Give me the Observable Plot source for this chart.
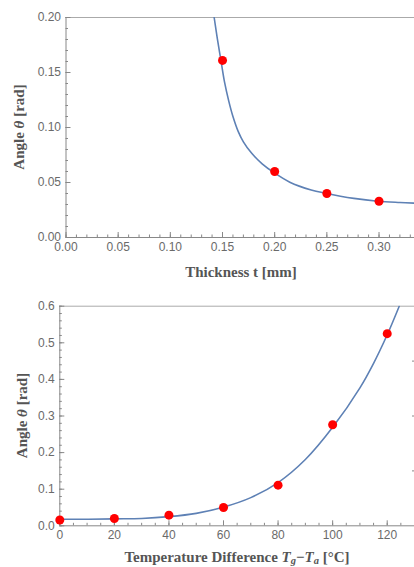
<!DOCTYPE html>
<html><head><meta charset="utf-8">
<script src="https://cdn.jsdelivr.net/npm/d3@7"></script>
<script src="https://cdn.jsdelivr.net/npm/@observablehq/plot@0.6"></script>
<style>body{margin:0;background:#fff} #chart svg{display:block}</style>
</head><body><div id="chart"></div>
<script>
// Panel 1: angle vs thickness
const thickness = [0.15, 0.20, 0.25, 0.30];
const angleByThickness = [0.161, 0.060, 0.040, 0.033];
const fitThicknessX = [0.142, 0.145, 0.1485, 0.152, 0.156, 0.160, 0.165, 0.170, 0.178, 0.188, 0.199, 0.2145, 0.235, 0.2484, 0.2759, 0.2989, 0.32, 0.334];
const fitThicknessY = [0.200, 0.181, 0.161, 0.141, 0.124, 0.110, 0.0965, 0.0870, 0.0765, 0.0670, 0.0592, 0.0503, 0.0432, 0.0403, 0.0356, 0.0330, 0.0318, 0.0312];
const topXTicks = [0, 0.05, 0.10, 0.15, 0.20, 0.25, 0.30];
const topYTicks = [0, 0.05, 0.10, 0.15, 0.20];

// Panel 2: angle vs temperature difference
const tempDiff = [0, 20, 40, 60, 80, 100, 120];
const angleByTemp = [0.016, 0.020, 0.029, 0.050, 0.111, 0.276, 0.525];
const fitTempX = [0, 10, 20, 30, 40, 50, 60, 70, 80, 90, 100, 110, 115, 120, 124.4];
const fitTempY = [0.018, 0.018, 0.019, 0.020, 0.025, 0.034, 0.051, 0.077, 0.118, 0.181, 0.269, 0.377, 0.444, 0.522, 0.600];
const botXTicks = [0, 20, 40, 60, 80, 100, 120];
const botYTicks = [0, 0.1, 0.2, 0.3, 0.4, 0.5, 0.6];
const botRightTicks = [0.15, 0.30, 0.45];

const curveColor = "#5e81b5";
const axisColor = "#888";
const textColor = "#6a6a6a";
const labelColor = "#555";

function panel({xDomain, yDomain, xTicks, yTicks, xMinor, yMinor, rightTicks, xFmt, yFmt, px, py, fx, fy, height, mt, mb, ml}) {
  const pts = px.map((x, i) => ({x, y: py[i]}));
  const fit = fx.map((x, i) => ({x, y: fy[i]}));
  const marks = [
    Plot.ruleY([yDomain[1]], {stroke: "#aaa"}),
    Plot.ruleX([xDomain[0]], {stroke: axisColor}),
    Plot.ruleY([yDomain[0]], {stroke: axisColor}),
    Plot.axisX({ticks: xTicks, tickSize: -5, tickPadding: 10, tickFormat: xFmt, stroke: axisColor, fill: textColor, fontSize: 12, label: null}),
    Plot.axisX({ticks: xMinor, tickSize: -2.5, text: null, stroke: axisColor, label: null}),
    Plot.axisY({ticks: yTicks, tickSize: -5, tickPadding: 10, tickFormat: yFmt, stroke: axisColor, fill: textColor, fontSize: 12, label: null}),
    Plot.axisY({ticks: yMinor, tickSize: -2.5, text: null, stroke: axisColor, label: null})
  ];
  if (rightTicks) marks.push(Plot.axisY({anchor: "right", ticks: rightTicks, tickSize: -3, text: null, stroke: axisColor, label: null}));
  marks.push(
    Plot.line(fit, {x: "x", y: "y", stroke: curveColor, strokeWidth: 1.6, curve: "catmull-rom", clip: true}),
    Plot.dot(pts, {x: "x", y: "y", r: 4.5, fill: "#ff0000", stroke: "none"})
  );
  return Plot.plot({
    width: 414, height,
    marginTop: mt, marginBottom: mb, marginLeft: ml, marginRight: 0,
    style: {fontFamily: "'Liberation Sans', Arial, sans-serif", fontSize: "12px", background: "#fff"},
    x: {domain: xDomain},
    y: {domain: yDomain},
    marks
  });
}

const chart = document.getElementById("chart");

const p1 = panel({
  xDomain: [0, 0.334], yDomain: [0, 0.2],
  xTicks: topXTicks, yTicks: topYTicks,
  xMinor: d3.range(0, 0.335, 0.01), yMinor: d3.range(0, 0.2001, 0.01),
  xFmt: d3.format(".2f"), yFmt: d3.format(".2f"),
  px: thickness, py: angleByThickness, fx: fitThicknessX, fy: fitThicknessY,
  height: 290, mt: 17, mb: 53, ml: 65.5
});
chart.appendChild(p1);

const p2 = panel({
  xDomain: [0, 130], yDomain: [0, 0.6],
  xTicks: botXTicks, yTicks: botYTicks,
  xMinor: d3.range(0, 131, 5), yMinor: d3.range(0, 0.6001, 0.02),
  rightTicks: botRightTicks,
  xFmt: d3.format("d"), yFmt: d3.format(".1f"),
  px: tempDiff, py: angleByTemp, fx: fitTempX, fy: fitTempY,
  height: 277, mt: 15.7, mb: 41.7, ml: 59.3
});
chart.appendChild(p2);

const serif = "'Liberation Serif', 'Times New Roman', serif";

function addLabels(svg, xl, yl) {
  const s = d3.select(svg);
  const tx = s.append("text")
    .attr("x", xl.x).attr("y", xl.y)
    .attr("text-anchor", "middle")
    .attr("font-family", serif).attr("font-weight", "bold").attr("font-size", 15)
    .attr("fill", labelColor);
  xl.parts.forEach(p => {
    const t = tx.append("tspan").text(p.t);
    if (p.i) t.attr("font-style", "italic");
    if (p.sub) t.attr("font-size", 10.5).attr("dy", 2.5);
    if (p.up) t.attr("dy", -2.5);
  });
  const ty = s.append("text")
    .attr("transform", `translate(${yl.x},${yl.y}) rotate(-90)`)
    .attr("text-anchor", "middle")
    .attr("font-family", serif).attr("font-weight", "bold").attr("font-size", 15)
    .attr("fill", labelColor);
  yl.parts.forEach(p => {
    const t = ty.append("tspan").text(p.t);
    if (p.i) t.attr("font-style", "italic");
  });
}

addLabels(p1,
  {x: 241, y: 277, parts: [{t: "Thickness t [mm]"}]},
  {x: 24, y: 127, parts: [{t: "Angle "}, {t: "θ", i: true}, {t: " [rad]"}]}
);
addLabels(p2,
  {x: 237, y: 271.5, parts: [{t: "Temperature Difference "}, {t: "T", i: true}, {t: "g", i: true, sub: true}, {t: "−", up: true}, {t: "T", i: true}, {t: "a", i: true, sub: true}, {t: " [°C]", up: true}]},
  {x: 27, y: 125.5, parts: [{t: "Angle "}, {t: "θ", i: true}, {t: " [rad]"}]}
);
</script>
</body></html>
